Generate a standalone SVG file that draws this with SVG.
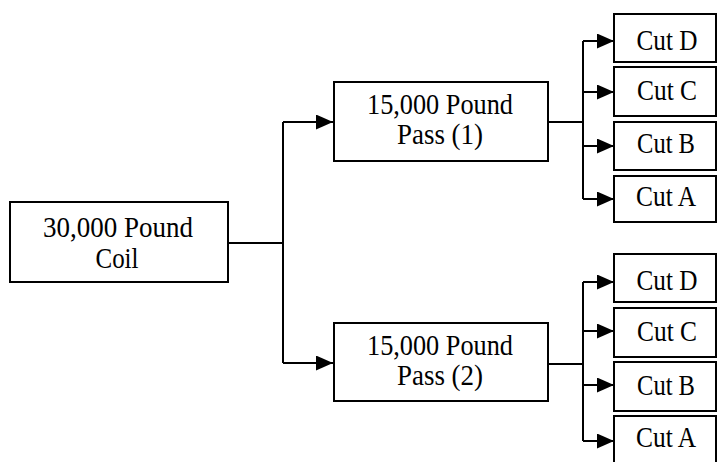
<svg xmlns="http://www.w3.org/2000/svg" width="717" height="462" viewBox="0 0 717 462">
  <style>
    .box { fill: #ffffff; stroke: #000000; stroke-width: 2; }
    .lbl { font-family: "Liberation Serif", "Times New Roman", serif; font-size: 29px; fill: #000000; text-anchor: middle; }
    .wire { fill: none; stroke: #000000; stroke-width: 2; }
    .arrow { fill: none; stroke: #000000; stroke-width: 2; marker-end: url(#head); }
  </style>
  <defs>
    <marker id="head" markerUnits="userSpaceOnUse" markerWidth="17" markerHeight="15" refX="17" refY="7.5" orient="auto">
      <path d="M0,0 L17,7.5 L0,15 Z" fill="#000000"/>
    </marker>
  </defs>
  <rect width="717" height="462" fill="#ffffff"/>

  <!-- connectors -->
  <g id="connectors">
    <path class="wire" d="M228,243 H283 M283,122 V363"/>
    <path class="arrow" d="M283,122 H333"/>
    <path class="arrow" d="M283,363 H333"/>

    <path class="wire" d="M548,122 H583 M583,41 V199"/>
    <path class="arrow" d="M583,41 H614"/>
    <path class="arrow" d="M583,92 H614"/>
    <path class="arrow" d="M583,146 H614"/>
    <path class="arrow" d="M583,199 H614"/>

    <path class="wire" d="M548,364 H583 M583,282 V441"/>
    <path class="arrow" d="M583,282 H614"/>
    <path class="arrow" d="M583,331 H614"/>
    <path class="arrow" d="M583,385 H614"/>
    <path class="arrow" d="M583,441 H614"/>
  </g>

  <!-- source coil -->
  <g id="coil">
    <rect class="box" x="10" y="202" width="218" height="80"/>
    <text class="lbl" x="118" y="237" textLength="150" lengthAdjust="spacingAndGlyphs">30,000 Pound</text>
    <text class="lbl" x="117" y="268" textLength="43" lengthAdjust="spacingAndGlyphs">Coil</text>
  </g>

  <!-- passes -->
  <g id="pass1">
    <rect class="box" x="334" y="82" width="214" height="79"/>
    <text class="lbl" x="440" y="114" textLength="146" lengthAdjust="spacingAndGlyphs">15,000 Pound</text>
    <text class="lbl" x="440" y="144" textLength="86" lengthAdjust="spacingAndGlyphs">Pass (1)</text>
  </g>
  <g id="pass2">
    <rect class="box" x="334" y="323" width="214" height="78"/>
    <text class="lbl" x="440" y="355" textLength="146" lengthAdjust="spacingAndGlyphs">15,000 Pound</text>
    <text class="lbl" x="440" y="385" textLength="86" lengthAdjust="spacingAndGlyphs">Pass (2)</text>
  </g>

  <!-- cuts from pass 1 -->
  <g id="cut1d">
    <rect class="box" x="614" y="14" width="102" height="48"/>
    <text class="lbl" x="667" y="50" textLength="61" lengthAdjust="spacingAndGlyphs">Cut D</text>
  </g>
  <g id="cut1c">
    <rect class="box" x="614" y="67" width="102" height="49"/>
    <text class="lbl" x="667" y="100" textLength="60" lengthAdjust="spacingAndGlyphs">Cut C</text>
  </g>
  <g id="cut1b">
    <rect class="box" x="614" y="122" width="102" height="48"/>
    <text class="lbl" x="666" y="153" textLength="58" lengthAdjust="spacingAndGlyphs">Cut B</text>
  </g>
  <g id="cut1a">
    <rect class="box" x="614" y="176" width="102" height="46"/>
    <text class="lbl" x="666" y="206" textLength="60" lengthAdjust="spacingAndGlyphs">Cut A</text>
  </g>

  <!-- cuts from pass 2 -->
  <g id="cut2d">
    <rect class="box" x="614" y="254" width="102" height="48"/>
    <text class="lbl" x="667" y="290" textLength="61" lengthAdjust="spacingAndGlyphs">Cut D</text>
  </g>
  <g id="cut2c">
    <rect class="box" x="614" y="308" width="102" height="49"/>
    <text class="lbl" x="667" y="341" textLength="60" lengthAdjust="spacingAndGlyphs">Cut C</text>
  </g>
  <g id="cut2b">
    <rect class="box" x="614" y="362" width="102" height="49"/>
    <text class="lbl" x="666" y="395" textLength="58" lengthAdjust="spacingAndGlyphs">Cut B</text>
  </g>
  <g id="cut2a">
    <rect class="box" x="614" y="416" width="102" height="60"/>
    <text class="lbl" x="666" y="447" textLength="60" lengthAdjust="spacingAndGlyphs">Cut A</text>
  </g>
</svg>
